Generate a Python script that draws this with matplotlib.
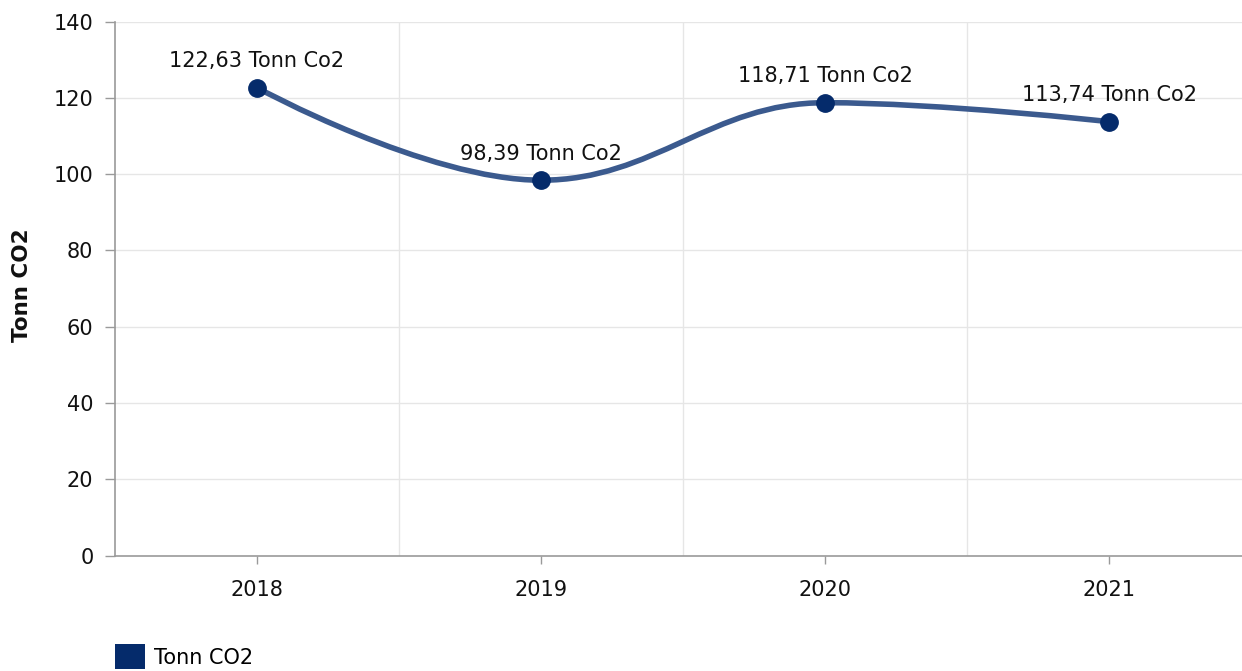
import matplotlib.pyplot as plt
import numpy as np
from matplotlib.path import Path
from matplotlib.patches import PathPatch, Patch

years = ['2018', '2019', '2020', '2021']
values = [122.63, 98.39, 118.71, 113.74]
labels = ['122,63 Tonn Co2', '98,39 Tonn Co2', '118,71 Tonn Co2', '113,74 Tonn Co2']
yticks = [0, 20, 40, 60, 80, 100, 120, 140]

line_color = '#3b5a8e'
marker_color = '#052b6b'
grid_color = '#e6e6e6'
axis_color = '#9a9a9a'
fs = 15

plt.rcParams['font.family'] = ['DejaVu Sans']

fig = plt.figure(figsize=(12.42, 6.71), dpi=100)
ax = fig.add_axes([115 / 1242, 115.5 / 671, 1 - 115 / 1242, (555.5 - 21.5) / 671])

x = np.arange(len(values), dtype=float)
y = np.array(values, dtype=float)


# highcharts-like spline control points
def spline_controls(x, y, smoothing=1.5):
    denom = smoothing + 1
    n = len(x)
    left = [(x[i], y[i]) for i in range(n)]
    right = [(x[i], y[i]) for i in range(n)]
    for i in range(1, n - 1):
        lx, ly = x[i - 1], y[i - 1]
        nx, ny = x[i + 1], y[i + 1]
        px, py = x[i], y[i]
        lcx = (smoothing * px + lx) / denom
        lcy = (smoothing * py + ly) / denom
        rcx = (smoothing * px + nx) / denom
        rcy = (smoothing * py + ny) / denom
        corr = 0
        if rcx != lcx:
            corr = (rcy - lcy) * (rcx - px) / (rcx - lcx) + py - rcy
        lcy += corr
        rcy += corr
        if lcy > ly and lcy > py:
            lcy = max(ly, py)
            rcy = 2 * py - lcy
        elif lcy < ly and lcy < py:
            lcy = min(ly, py)
            rcy = 2 * py - lcy
        if rcy > ny and rcy > py:
            rcy = max(ny, py)
            lcy = 2 * py - rcy
        elif rcy < ny and rcy < py:
            rcy = min(ny, py)
            lcy = 2 * py - rcy
        left[i] = (lcx, lcy)
        right[i] = (rcx, rcy)
    verts = [(x[0], y[0])]
    codes = [Path.MOVETO]
    for i in range(1, n):
        verts += [right[i - 1], left[i], (x[i], y[i])]
        codes += [Path.CURVE4] * 3
    return Path(verts, codes)


path = spline_controls(x, y)
ax.add_patch(PathPatch(path, facecolor='none', edgecolor=line_color, lw=4,
                       capstyle='round', zorder=3))
ax.plot(x, y, 'o', color=marker_color, markersize=12.5, zorder=4)

for xi, yi, lab in zip(x, y, labels):
    ax.annotate(lab, (xi, yi), xytext=(0, 12), textcoords='offset points',
                ha='center', va='bottom', fontsize=fs, color='#111111')

ax.set_xlim(-0.5, (1242 - 115) / 284 - 0.5)
ax.set_ylim(0, 140)
ax.set_yticks(yticks)
ax.set_yticklabels([str(t) for t in yticks])
ax.set_xticks(x)
ax.set_xticklabels(years)
ax.set_xticks([0.5, 1.5, 2.5], minor=True)

ax.grid(axis='y', which='major', color=grid_color, lw=1)
ax.grid(axis='x', which='minor', color=grid_color, lw=1)
ax.set_axisbelow(True)

ax.tick_params(axis='y', which='major', length=7.5, width=1, color=axis_color,
               labelsize=fs, pad=8, labelcolor='#111111')
ax.tick_params(axis='x', which='major', length=6, width=1, color=axis_color,
               labelsize=fs, pad=12, labelcolor='#111111')
ax.tick_params(axis='x', which='minor', length=0)

for s in ['top', 'right']:
    ax.spines[s].set_visible(False)
for s in ['left', 'bottom']:
    ax.spines[s].set_color(axis_color)
    ax.spines[s].set_linewidth(1.2)

fig.text(22 / 1242, 1 - 285 / 671, 'Tonn CO2', rotation=90, ha='center', va='center',
         fontsize=15.5, fontweight='bold', color='#111111')

leg = fig.legend(handles=[Patch(facecolor=marker_color, edgecolor='none')], labels=['Tonn CO2'],
                 loc='lower left', bbox_to_anchor=(115 / 1242, 2 / 671), frameon=False,
                 borderpad=0, borderaxespad=0,
                 handlelength=1.45, handleheight=1.45, handletextpad=0.4, fontsize=fs)

fig.savefig('out.png', dpi=100)
